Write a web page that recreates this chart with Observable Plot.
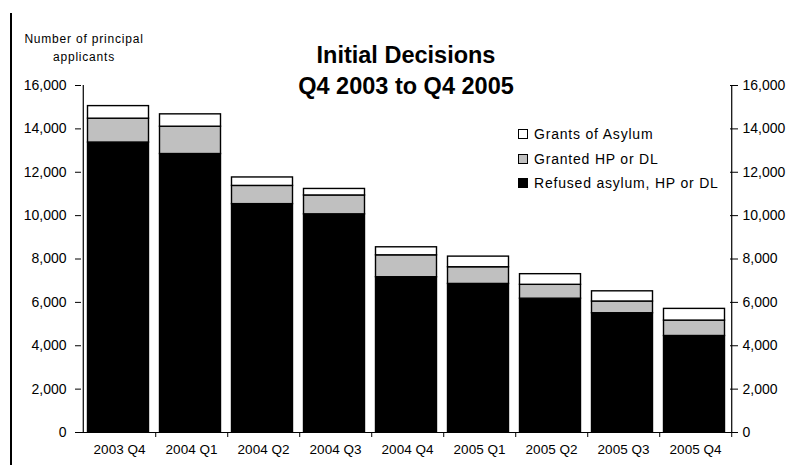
<!DOCTYPE html>
<html><head><meta charset="utf-8">
<script src="https://cdn.jsdelivr.net/npm/d3@7"></script>
<script src="https://cdn.jsdelivr.net/npm/@observablehq/plot@0.6"></script>
<style>
body{margin:0;background:#fff;font-family:"Liberation Sans",Arial,sans-serif;}
#wrap{position:relative;width:794px;height:465px;overflow:hidden;background:#fff}
#frame{position:absolute;left:10px;top:13px;width:1.5px;height:460px;background:#000}
#title{position:absolute;left:206px;width:400px;top:40px;text-align:center;font-weight:bold;font-size:23.5px;line-height:31px;color:#000}
#ylab{position:absolute;left:4px;width:160px;top:30px;text-align:center;font-size:12px;line-height:18px;letter-spacing:0.8px;color:#000}
#legend{position:absolute;left:518px;top:122px;font-size:14px;letter-spacing:0.8px;color:#000}
#legend .row{height:24.5px;display:flex;align-items:center}
#legend .sw{width:8px;height:8px;border:1.3px solid #000;margin-right:6px}
#chart{position:absolute;left:0;top:0}
</style></head><body>
<div id="wrap">
<div id="chart"></div>
<div id="frame"></div>
<div id="title">Initial Decisions<br>Q4 2003 to Q4 2005</div>
<div id="ylab">Number of principal<br>applicants</div>
<div id="legend"></div>
</div>
<script>
const quarters = ["2003 Q4","2004 Q1","2004 Q2","2004 Q3","2004 Q4","2005 Q1","2005 Q2","2005 Q3","2005 Q4"];
const refused = [13370, 12840, 10530, 10060, 7160, 6850, 6170, 5500, 4450];
const grantedHP = [1100, 1260, 840, 870, 1010, 770, 640, 540, 710];
const grantsAsylum = [580, 570, 390, 300, 370, 490, 490, 470, 540];
const yTicks = [0, 2000, 4000, 6000, 8000, 10000, 12000, 14000, 16000];
const series = ["Refused asylum, HP or DL", "Granted HP or DL", "Grants of Asylum"];
const seriesColors = ["#000000", "#c0c0c0", "#ffffff"];
const legendOrder = ["Grants of Asylum", "Granted HP or DL", "Refused asylum, HP or DL"];

const rows = quarters.flatMap((q, i) => [
  {q, s: series[0], v: refused[i]},
  {q, s: series[1], v: grantedHP[i]},
  {q, s: series[2], v: grantsAsylum[i]}
]);

const W = 794, H = 465, mL = 81, mR = 61, mT = 85, mB = 33;
const step = (W - mL - mR) / quarters.length;
const fmt = d3.format(",");

const chart = Plot.plot({
  width: W, height: H,
  marginLeft: mL, marginRight: mR, marginTop: mT, marginBottom: mB,
  style: {fontFamily: '"Liberation Sans", Arial, sans-serif', background: "white", color: "black"},
  x: {type: "band", domain: quarters, padding: 0, axis: null},
  y: {domain: [0, 16000], axis: null},
  color: {domain: series, range: seriesColors},
  marks: [
    Plot.barY(rows, {x: "q", y: "v", fill: "s", stroke: "black", strokeWidth: 1.4, insetLeft: 4.5, insetRight: 6.5}),
    Plot.ruleY([0], {stroke: "black", strokeWidth: 1.2}),
    Plot.ruleX([quarters[0]], {y1: 0, y2: 16000, dx: -step / 2, stroke: "black", strokeWidth: 1.2}),
    Plot.ruleX([quarters[quarters.length - 1]], {y1: 0, y2: 16000, dx: step / 2, stroke: "black", strokeWidth: 1.2}),
    Plot.axisX(quarters, {tickSize: 5, fill: "none", dx: step / 2, stroke: "black"}),
    Plot.axisX(quarters, {tickSize: 0, tickPadding: 12, fontSize: 13.5, fill: "black", label: null}),
    Plot.axisY(yTicks, {anchor: "left", tickSize: 6, tickPadding: 9, tickFormat: fmt, fontSize: 14, fill: "black", stroke: "black", label: null}),
    Plot.axisY(yTicks, {anchor: "right", tickSize: 4, tickPadding: 5, tickFormat: fmt, fontSize: 14, fill: "black", stroke: "black", label: null}),
    Plot.axisY(yTicks, {anchor: "right", tickSize: 4, fill: "none", dx: -4, stroke: "black", label: null})
  ]
});
document.getElementById("chart").appendChild(chart);

const leg = document.getElementById("legend");
legendOrder.forEach(name => {
  const row = document.createElement("div");
  row.className = "row";
  const sw = document.createElement("span");
  sw.className = "sw";
  sw.style.background = seriesColors[series.indexOf(name)];
  const t = document.createElement("span");
  t.textContent = name;
  row.appendChild(sw); row.appendChild(t);
  leg.appendChild(row);
});
</script>
</body></html>
